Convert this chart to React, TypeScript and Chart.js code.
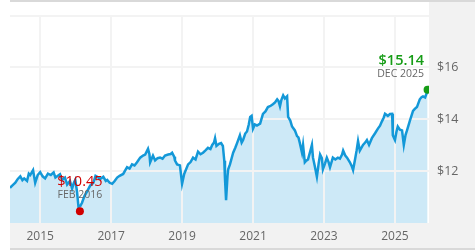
import { useEffect, useRef } from "react";
import { Chart, registerables } from "chart.js";

Chart.register(...registerables);

const dates = [
  2014.15, 2014.22, 2014.3, 2014.37, 2014.44, 2014.5, 2014.55, 2014.63, 2014.68, 2014.72, 2014.8, 2014.86, 2014.93, 2015.0,
  2015.07, 2015.14, 2015.22, 2015.3, 2015.38, 2015.43, 2015.48, 2015.56, 2015.62, 2015.7, 2015.76,
  2015.84, 2015.9, 2015.95, 2015.99, 2016.04, 2016.08, 2016.13, 2016.18, 2016.25, 2016.32,
  2016.41, 2016.5, 2016.56, 2016.61, 2016.69, 2016.78, 2016.85, 2016.89, 2016.96, 2017.03,
  2017.1, 2017.17, 2017.24, 2017.34, 2017.45, 2017.52, 2017.59, 2017.66, 2017.73, 2017.82,
  2017.9, 2017.96, 2018.04, 2018.08, 2018.1, 2018.18, 2018.24, 2018.31, 2018.38, 2018.45,
  2018.52, 2018.61, 2018.68, 2018.72, 2018.78, 2018.8, 2018.86, 2018.94, 2018.98, 2019.0,
  2019.06, 2019.17, 2019.24, 2019.31, 2019.38, 2019.45, 2019.52, 2019.59, 2019.66, 2019.73,
  2019.8, 2019.85, 2019.9, 2019.93, 2019.97, 2020.04, 2020.1, 2020.15, 2020.19, 2020.21,
  2020.24, 2020.28, 2020.3, 2020.35, 2020.44, 2020.5, 2020.55, 2020.63, 2020.68, 2020.72,
  2020.78, 2020.83, 2020.88, 2020.92, 2020.96, 2021.0, 2021.05, 2021.11, 2021.2, 2021.28,
  2021.35, 2021.42, 2021.5, 2021.56, 2021.62, 2021.68, 2021.72, 2021.76, 2021.8, 2021.85,
  2021.9, 2021.96, 2021.99, 2022.05, 2022.1, 2022.18, 2022.24, 2022.28, 2022.32, 2022.38,
  2022.41, 2022.46, 2022.5, 2022.55, 2022.62, 2022.66, 2022.69, 2022.74, 2022.8, 2022.85,
  2022.89, 2022.94, 2022.97, 2023.03, 2023.08, 2023.13, 2023.17, 2023.25, 2023.32, 2023.39,
  2023.45, 2023.51, 2023.54, 2023.6, 2023.65, 2023.73, 2023.78, 2023.82, 2023.87, 2023.92,
  2023.96, 2024.01, 2024.1, 2024.16, 2024.21, 2024.27, 2024.35, 2024.44, 2024.52, 2024.58,
  2024.63, 2024.68, 2024.72, 2024.8, 2024.86, 2024.92, 2024.94, 2025.0, 2025.04, 2025.08,
  2025.14, 2025.2, 2025.25, 2025.3, 2025.34, 2025.42, 2025.51, 2025.56, 2025.62, 2025.7,
  2025.75, 2025.79, 2025.85, 2025.92,
];

const navs = [
  11.36, 11.45, 11.55, 11.7, 11.8, 11.65, 11.72, 11.62, 11.9, 11.85, 12.04, 11.55, 11.85, 11.96,
  11.8, 11.72, 11.9, 11.85, 11.95, 11.75, 11.8, 11.88, 11.66, 11.75, 11.48,
  11.62, 11.33, 11.55, 11.66, 11.2, 10.62, 10.65, 10.78, 11.05, 11.21,
  11.44, 11.55, 11.82, 11.78, 11.7, 11.78, 11.62, 11.66, 11.55, 11.51,
  11.62, 11.75, 11.82, 11.89, 12.15, 12.1, 12.26, 12.22, 12.34, 12.52,
  12.6, 12.64, 12.86, 12.65, 12.34, 12.6, 12.41, 12.5, 12.52, 12.48,
  12.6, 12.64, 12.66, 12.71, 12.55, 12.41, 12.26, 12.22, 11.75, 11.51,
  11.89, 12.26, 12.35, 12.52, 12.45, 12.75, 12.65, 12.71, 12.8, 12.9,
  12.85, 13.01, 13.1, 13.27, 12.97, 13.05, 13.08, 12.97, 12.4, 11.7,
  10.88, 11.8, 12.07, 12.26, 12.71, 12.9, 13.08, 13.38, 13.1, 13.2,
  13.45, 13.53, 13.8, 14.09, 14.13, 13.64, 13.8, 13.76, 13.83, 14.21,
  14.3, 14.47, 14.52, 14.58, 14.65, 14.77, 14.7, 14.5, 14.75, 14.92,
  14.8, 14.88, 14.09, 13.95, 13.72, 13.57, 13.35, 13.3, 13.08, 12.71,
  13.01, 12.34, 12.4, 12.45, 12.8, 13.01, 12.52, 12.2, 11.78, 12.3,
  12.64, 12.5, 12.07, 12.3, 12.52, 12.35, 12.15, 12.52, 12.45, 12.52,
  12.48, 12.64, 12.79, 12.6, 12.52, 12.34, 12.2, 12.04, 12.41, 12.8,
  13.16, 12.79, 13.01, 13.1, 13.2, 13.01, 13.27, 13.46, 13.64, 13.75,
  13.91, 14.05, 14.21, 14.13, 14.2, 14.21, 13.38, 13.2, 13.5, 13.72,
  13.6, 13.57, 13.01, 13.4, 13.57, 13.94, 14.32, 14.4, 14.47, 14.77,
  14.85, 14.88, 14.84, 15.1,
];

const extremeDates = [2016.12, 2025.92];
const extremeValues = [10.45, 15.14];
const extremeValueLabels = ["$10.45", "$15.14"];
const extremeDateLabels = ["FEB 2016", "DEC 2025"];
const extremeColors = ["#d10000", "#169c16"];

const xTickYears = [2015, 2017, 2019, 2021, 2023, 2025];
const yTickValues = [12, 14, 16];
const yGridValues = [12, 14, 16, 18];

const FONT = "'Open Sans', 'Noto Sans', sans-serif";

export default function App() {
  const ref = useRef<HTMLCanvasElement>(null);

  useEffect(() => {
    document.body.style.margin = "0";
    const canvas = ref.current!;
    const points = dates.map((d, i) => ({ x: d, y: navs[i] }));
    const extremes = extremeDates.map((d, i) => ({ x: d, y: extremeValues[i] }));

    const decor = {
      id: "decor",
      beforeDraw(chart: any) {
        const { ctx, width, height, chartArea } = chart;
        ctx.save();
        ctx.fillStyle = "#f2f2f2";
        ctx.fillRect(chartArea.right, 2, width - chartArea.right, height - 4);
        ctx.fillRect(chartArea.left, chartArea.bottom, width - chartArea.left, height - chartArea.bottom - 2);
        ctx.fillStyle = "#d9d9d9";
        ctx.fillRect(chartArea.left, 0, width - chartArea.left, 2);
        ctx.fillRect(chartArea.left, height - 2, width - chartArea.left, 2);
        ctx.restore();
      },
      afterDatasetDraw(chart: any, args: any) {
        if (args.index !== 0) return;
        const { ctx, chartArea, scales } = chart;
        ctx.save();
        ctx.strokeStyle = "#f3f3f3";
        ctx.lineWidth = 2;
        ctx.beginPath();
        yGridValues.forEach((v) => {
          const y = Math.round(scales.y.getPixelForValue(v));
          ctx.moveTo(chartArea.left, y);
          ctx.lineTo(chartArea.right, y);
        });
        xTickYears.forEach((v) => {
          const x = Math.round(scales.x.getPixelForValue(v));
          ctx.moveTo(x, chartArea.top);
          ctx.lineTo(x, chartArea.bottom);
        });
        ctx.stroke();
        ctx.restore();
      },
      afterDraw(chart: any) {
        const { ctx, chartArea, scales } = chart;
        ctx.save();
        extremeDates.forEach((d, i) => {
          const px = scales.x.getPixelForValue(d);
          const py = scales.y.getPixelForValue(extremeValues[i]);
          const drawText = (text: string, font: string, color: string, baseline: number) => {
            ctx.font = font;
            const w = ctx.measureText(text).width;
            const right = Math.min(px + w / 2, chartArea.right - 5);
            ctx.fillStyle = color;
            ctx.textAlign = "right";
            ctx.textBaseline = "alphabetic";
            ctx.fillText(text, right, baseline);
          };
          drawText(extremeDateLabels[i], `10.5px ${FONT}`, "#666666", py - 13);
          drawText(
            extremeValueLabels[i],
            `${i === 1 ? "600 " : ""}14.5px ${FONT}`,
            extremeColors[i],
            py - 25
          );
        });
        ctx.restore();
      },
    };

    const chart = new Chart(canvas, {
      type: "line",
      data: {
        datasets: [
          {
            data: points,
            borderColor: "rgba(0,0,0,0)",
            borderWidth: 0,
            backgroundColor: "#cde9f7",
            fill: "start",
            pointRadius: 0,
            order: 3,
          },
          {
            data: points,
            borderColor: "#1398d8",
            borderWidth: 2.5,
            fill: false,
            pointRadius: 0,
            tension: 0,
            order: 2,
          },
          {
            type: "scatter",
            data: extremes,
            pointRadius: 4,
            pointBackgroundColor: extremeColors,
            pointBorderWidth: 0,
            backgroundColor: extremeColors,
            order: 1,
          } as any,
        ],
      },
      options: {
        animation: false,
        responsive: false,
        maintainAspectRatio: false,
        layout: { padding: { left: 10, top: 9, right: 0, bottom: 0 } },
        plugins: {
          legend: { display: false },
          tooltip: { enabled: false },
        },
        scales: {
          x: {
            type: "linear",
            min: 2014.15,
            max: 2025.96,
            grid: { display: false, drawTicks: false },
            border: { display: false },
            afterBuildTicks: (scale: any) => {
              scale.ticks = xTickYears.map((v) => ({ value: v }));
            },
            afterFit: (scale: any) => {
              scale.height = 27;
            },
            ticks: {
              padding: 6,
              color: "#666666",
              font: { family: FONT, size: 12 },
              maxRotation: 0,
              autoSkip: false,
              callback: (v: any) => String(v),
            },
          },
          y: {
            position: "right",
            min: 10,
            max: 18,
            grid: { display: false, drawTicks: false },
            border: { display: false },
            afterBuildTicks: (scale: any) => {
              scale.ticks = yTickValues.map((v) => ({ value: v }));
            },
            afterFit: (scale: any) => {
              scale.width = 46;
            },
            ticks: {
              padding: 8,
              color: "#666666",
              font: { family: FONT, size: 12.5 },
              callback: (v: any) => `$${v}`,
            },
          },
        },
      },
      plugins: [decor],
    });
    return () => chart.destroy();
  }, []);

  return <canvas ref={ref} width={475} height={250} style={{ display: "block" }} />;
}
